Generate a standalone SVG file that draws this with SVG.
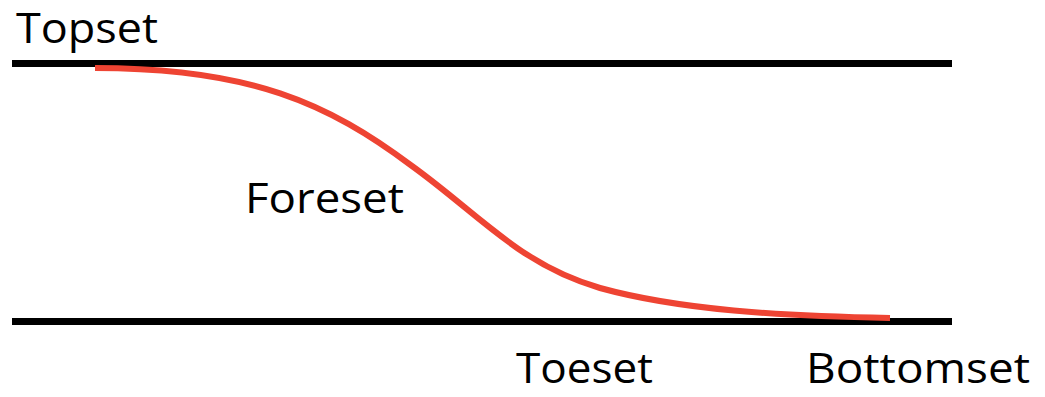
<svg xmlns="http://www.w3.org/2000/svg" width="1045" height="397" viewBox="0 0 1045 397">
<style>
.lbl{font-family:"Open Sans","Noto Sans",sans-serif;font-size:42px;fill:#000}
.bed{stroke:#000;stroke-width:7;fill:none}
.curve{stroke:#ee4433;stroke-width:6;fill:none;stroke-linecap:butt}
</style>
<rect width="1045" height="397" fill="#fff"/>
<g id="topset-line"><line class="bed" x1="12" y1="63.5" x2="952" y2="63.5"/></g>
<g id="bottom-line"><line class="bed" x1="12" y1="321.5" x2="952" y2="321.5"/></g>
<g id="connectors">
<path class="curve" d="M95,68 C250,68 328,103 412,166 C 480,215 520,265 600,288 C 680,310 780,316 890,318"/>
</g>
<g id="topset"><text class="lbl" x="16" y="43" textLength="142" lengthAdjust="spacingAndGlyphs">Topset</text></g>
<g id="foreset"><text class="lbl" x="245" y="213" textLength="159" lengthAdjust="spacingAndGlyphs">Foreset</text></g>
<g id="toeset"><text class="lbl" x="516" y="383" textLength="137" lengthAdjust="spacingAndGlyphs">Toeset</text></g>
<g id="bottomset"><text class="lbl" x="806" y="383" textLength="224" lengthAdjust="spacingAndGlyphs">Bottomset</text></g>
</svg>
